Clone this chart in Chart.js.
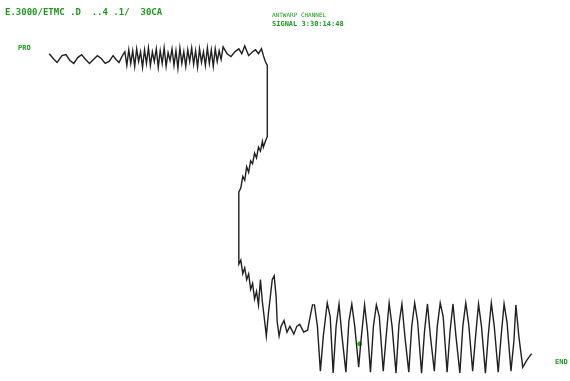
<!DOCTYPE html>
<html>
<head>
<meta charset="utf-8">
<script src="https://cdn.jsdelivr.net/npm/chart.js@4/dist/chart.umd.min.js"></script>
<style>
body { margin: 0; background: #fff; }
#trace { display: block; }
</style>
</head>
<body>
<canvas id="trace" width="570" height="381"></canvas>
<script>
// seismic trace, time along x, amplitude along y (screen-down units)
var traceTime = [45,50,53,58,62,66,70,74,78,82,86,90,94,98,102,106,110,113,116,119,122,
  124,126,128,130,132,134,136,138,140,142,144,146,148,150,152,154,156,158,160,162,164,166,168,170,172,174,176,178,180,182,184,186,188,190,192,194,196,198,200,202,204,206,208,210,212,214,216,218,220,222,
  226,230,234,238,241,244,248,252,255,258,261,263,265,267,
  267,
  265,263,262,260,258,256,254,252,250,248,246,244,242,240,238,
  238,
  240,242,244,246,248,250,252,254,256,258,260,262,264,266,268,270,272,274,276,277,279,281,284,287,290,294,297,300,304,308,311,313,
  315,318,321,324,328,331,334,337,340,343,347,350,353,356,360,362,366,369,372,375,378,381,385,388,391,394,398,401,404,407,411,414,417,420,424,427,430,433,437,440,443,446,450,453,456,459,463,466,469,472,476,479,482,485,489,492,495,498,502,505,508,511,515,518,520,523,527,531,536];
var traceAmp = [50,56,59,52,51,57,60,54,51,56,60,56,52,55,60,58,52,56,59,53,48,
  62,46,60,47,63,45,58,48,64,46,60,44,62,48,58,45,64,47,60,44,63,49,57,45,62,47,65,44,60,48,63,46,58,44,61,47,64,45,59,48,62,44,60,46,63,45,58,47,56,43,
  50,53,48,45,50,42,52,48,46,50,45,52,58,62,
  135,
  140,146,140,150,146,157,152,163,160,172,166,180,176,188,192,
  266,
  262,276,270,282,276,292,286,302,294,308,282,305,322,340,318,300,282,278,300,325,340,330,324,336,330,338,330,328,336,334,318,308,
  308,330,376,340,306,320,378,330,307,340,377,325,307,330,372,348,308,335,377,330,308,320,376,340,306,330,378,328,307,340,377,330,306,325,378,335,307,340,376,330,306,320,377,335,307,340,378,330,306,328,376,340,307,330,378,338,306,330,377,340,307,326,376,345,308,340,372,365,358];

var pickTime = [361];
var pickAmp = [348];

var textItems = ["E.3000/ETMC .D  ..4 .1/  30CA", "ANTWARP CHANNEL", "SIGNAL 3:30:14:48", "PRO", "END"];

var points = traceTime.map(function (t, i) { return { x: t, y: traceAmp[i] }; });
var picks = pickTime.map(function (t, i) { return { x: t, y: pickAmp[i] }; });

var labelPlugin = {
  id: 'labels',
  afterDraw: function (chart) {
    var ctx = chart.ctx;
    ctx.save();
    ctx.fillStyle = '#1e9a1e';
    ctx.textBaseline = 'middle';
    ctx.font = 'bold 9px "DejaVu Sans Mono"';
    ctx.fillText(textItems[0], 5, 13);
    ctx.font = '6px "DejaVu Sans Mono"';
    ctx.fillText(textItems[1], 272, 15);
    ctx.font = 'bold 7px "DejaVu Sans Mono"';
    ctx.fillText(textItems[2], 272, 24);
    ctx.fillText(textItems[3], 18, 48);
    ctx.fillText(textItems[4], 555, 362);
    ctx.restore();
  }
};

var tracechart = new Chart(document.getElementById("trace"), {
  type: 'scatter',
  data: {
    datasets: [{
      data: points,
      showLine: true,
      borderColor: '#202020',
      borderWidth: 1.4,
      pointRadius: 0,
      tension: 0
    }, {
      data: picks,
      pointRadius: 2,
      pointBackgroundColor: '#18b018',
      pointBorderColor: '#18b018'
    }]
  },
  options: {
    responsive: false,
    animation: false,
    devicePixelRatio: 1,
    layout: { padding: 0 },
    plugins: {
      legend: { display: false },
      tooltip: { enabled: false }
    },
    scales: {
      x: { type: 'linear', display: false, min: 0, max: 570 },
      y: { type: 'linear', display: false, min: 0, max: 381, reverse: true }
    }
  },
  plugins: [labelPlugin]
});
</script>
</body>
</html>
